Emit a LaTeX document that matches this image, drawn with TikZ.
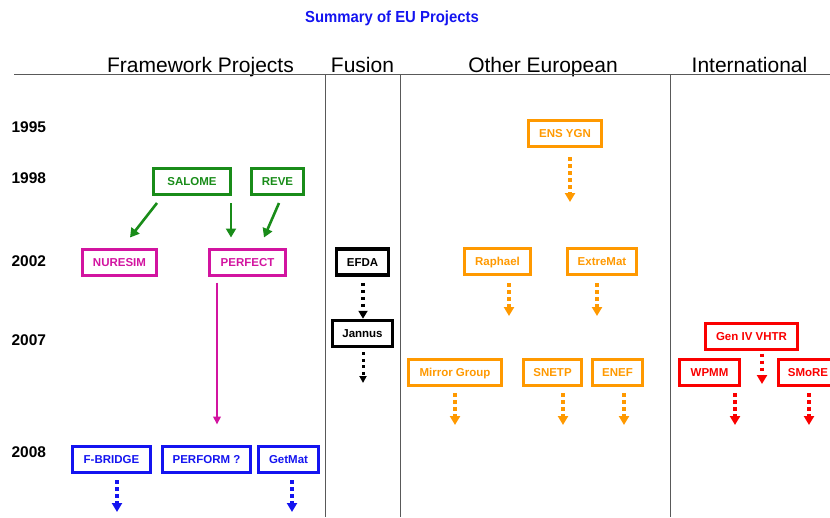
\documentclass[tikz,border=0pt]{standalone}
\usepackage{fontspec}
\setmainfont{Liberation Sans}
\usetikzlibrary{arrows.meta}

\definecolor{fpgreen}{RGB}{25,140,25}
\definecolor{fpmagenta}{RGB}{210,20,160}
\definecolor{euorange}{RGB}{255,153,0}
\definecolor{fpblue}{RGB}{20,20,240}
\definecolor{intred}{RGB}{250,0,0}

\begin{document}
\begin{tikzpicture}[x=1pt,y=-1pt,
  pbox/.style={draw=#1, text=#1, line width=3pt, minimum height=26pt, inner sep=0pt,
               text height=8.3pt, text depth=0pt,
               font=\fontsize{11.5}{12}\selectfont\bfseries},
  yearlbl/.style={anchor=west, font=\fontsize{15.5}{16}\selectfont\bfseries},
  colhead/.style={anchor=base, font=\fontsize{21}{23}\selectfont},
  link/.style={line width=2.6pt, -{Triangle[width=10pt,length=9pt]}},
  thinlink/.style={line width=2pt, -{Triangle[width=7.5pt,length=8pt]}},
  trail/.style={line width=3.5pt, dash pattern=on 3.5pt off 3.5pt, -{Triangle[width=10pt,length=9pt]}},
  colrule/.style={black!65, line width=1pt}]

\useasboundingbox (0,0) rectangle (830,517);
\clip (0,0) rectangle (830,517);

% title and column headings
\node[anchor=base, text=fpblue, font=\fontsize{16}{18}\selectfont\bfseries] (title) at (392,22)
  {\scalebox{0.93}[1]{Summary of EU Projects}};
\node[colhead] (hframe) at (200.5,72) {Framework Projects};
\node[colhead] (hfusion) at (362.5,72) {Fusion};
\node[colhead] (hother) at (543,72) {Other European};
\node[colhead] (hinter) at (749.5,72) {International};

% table rules
\draw[colrule] (14,74) -- (830,74);
\draw[colrule] (325,74) -- (325,517);
\draw[colrule] (400,74) -- (400,517);
\draw[colrule] (670,74) -- (670,517);

% years
\node[yearlbl] (y1995) at (8,127) {1995};
\node[yearlbl] (y1998) at (8,178) {1998};
\node[yearlbl] (y2002) at (8,261) {2002};
\node[yearlbl] (y2007) at (8,340) {2007};
\node[yearlbl] (y2008) at (8,452) {2008};

% framework projects
\node[pbox=fpgreen, minimum width=77pt] (salome) at (192,181.5) {SALOME};
\node[pbox=fpgreen, minimum width=52pt] (reve) at (277.5,181.5) {REVE};
\node[pbox=fpmagenta, minimum width=74pt] (nuresim) at (119.5,262) {NURESIM};
\node[pbox=fpmagenta, minimum width=76pt] (perfect) at (247.5,262) {PERFECT};
\node[pbox=fpblue, minimum width=78pt] (fbridge) at (111.5,459) {F-BRIDGE};
\node[pbox=fpblue, minimum width=88pt] (perform) at (206.5,459) {PERFORM ?};
\node[pbox=fpblue, minimum width=60pt] (getmat) at (288.5,459) {GetMat};

% fusion
\node[pbox=black, line width=3.5pt, minimum width=52pt] (efda) at (362.5,262) {EFDA};
\node[pbox=black, line width=3.5pt, minimum width=60pt] (jannus) at (362.5,333.5) {Jannus};

% other european
\node[pbox=euorange, minimum width=73pt] (ensygn) at (565,133) {ENS YGN};
\node[pbox=euorange, minimum width=66pt] (raphael) at (497.5,261.5) {Raphael};
\node[pbox=euorange, minimum width=69pt] (extremat) at (602,261.5) {ExtreMat};
\node[pbox=euorange, minimum width=93pt] (mirror) at (455,372) {Mirror Group};
\node[pbox=euorange, minimum width=58pt] (snetp) at (552.5,372) {SNETP};
\node[pbox=euorange, minimum width=50pt] (enef) at (617.5,372) {ENEF};

% international
\node[pbox=intred, minimum width=92pt] (geniv) at (751.5,336) {Gen IV VHTR};
\node[pbox=intred, minimum width=60pt] (wpmm) at (709.5,372) {WPMM};
\node[pbox=intred, minimum width=59pt] (smore) at (808,372) {SMoRE};

% lineage arrows
\draw[link, fpgreen] ([xshift=-35pt,yshift=-7pt]salome.south) -- ([xshift=10.5pt,yshift=10pt]nuresim.north);
\draw[link, fpgreen] ([xshift=39pt,yshift=-7pt]salome.south) -- ([xshift=-16.5pt,yshift=10pt]perfect.north);
\draw[link, fpgreen] ([xshift=1.5pt,yshift=-7pt]reve.south) -- ([xshift=16.5pt,yshift=10pt]perfect.north);
\draw[thinlink, fpmagenta] ([xshift=-30.5pt,yshift=-6pt]perfect.south) -- ([xshift=10.5pt,yshift=20pt]perform.north);
\draw[trail, black, -{Triangle[width=9pt,length=8pt]}]
  ([xshift=0.5pt,yshift=-6pt]efda.south) -- ([xshift=0.5pt]jannus.north);

% open-ended continuations
\coordinate (ensygn-end) at (570,202);
\coordinate (raphael-end) at (509,316);
\coordinate (extremat-end) at (597,316);
\coordinate (jannus-end) at (363,383);
\coordinate (mirror-end) at (455,425);
\coordinate (snetp-end) at (563,425);
\coordinate (enef-end) at (624,425);
\coordinate (geniv-end) at (762,384);
\coordinate (wpmm-end) at (735,425);
\coordinate (smore-end) at (809,425);
\coordinate (fbridge-end) at (117,512);
\coordinate (getmat-end) at (292,512);

\draw[trail, euorange, shorten <=9.5pt] (ensygn.south -| ensygn-end) -- (ensygn-end);
\draw[trail, euorange, shorten <=7pt] (raphael.south -| raphael-end) -- (raphael-end);
\draw[trail, euorange, shorten <=7pt] (extremat.south -| extremat-end) -- (extremat-end);
\draw[trail, euorange, shorten <=6.5pt] (mirror.south -| mirror-end) -- (mirror-end);
\draw[trail, euorange, shorten <=6.5pt] (snetp.south -| snetp-end) -- (snetp-end);
\draw[trail, euorange, shorten <=6.5pt] (enef.south -| enef-end) -- (enef-end);
\draw[trail, black, line width=3pt, dash pattern=on 3pt off 3.5pt, shorten <=4pt, -{Triangle[width=7pt,length=7pt]}] (jannus.south -| jannus-end) -- (jannus-end);
\draw[trail, intred, shorten <=3pt] (geniv.south -| geniv-end) -- (geniv-end);
\draw[trail, intred, shorten <=6.5pt] (wpmm.south -| wpmm-end) -- (wpmm-end);
\draw[trail, intred, shorten <=6.5pt] (smore.south -| smore-end) -- (smore-end);
\draw[trail, fpblue, shorten <=6.5pt] (fbridge.south -| fbridge-end) -- (fbridge-end);
\draw[trail, fpblue, shorten <=6.5pt] (getmat.south -| getmat-end) -- (getmat-end);
\end{tikzpicture}
\end{document}
